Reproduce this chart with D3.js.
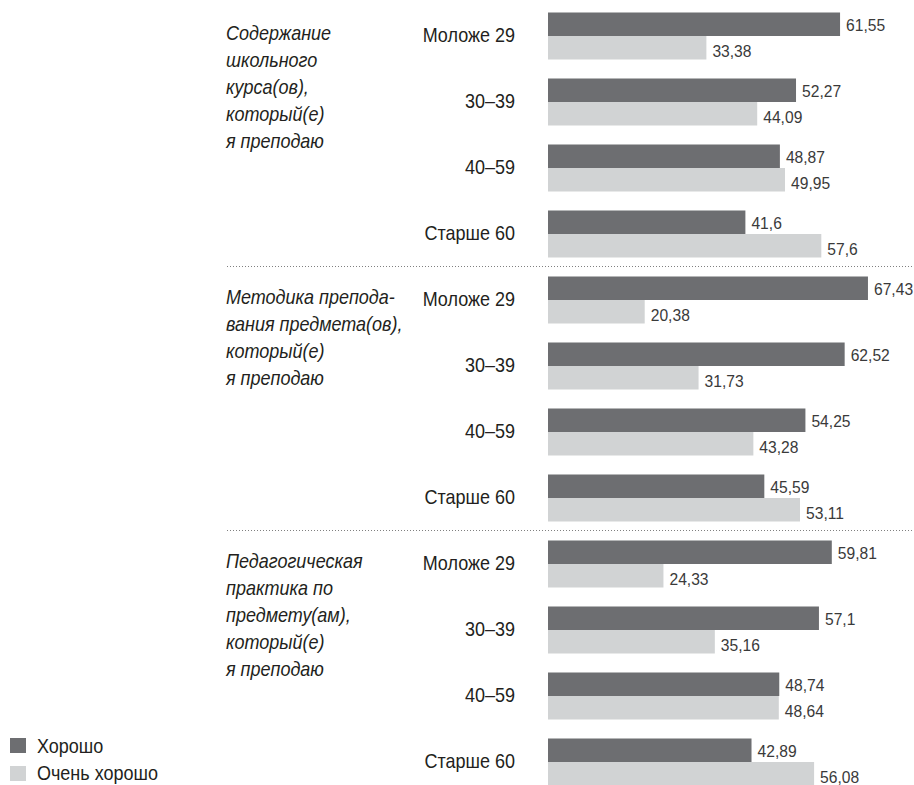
<!DOCTYPE html>
<html><head><meta charset="utf-8">
<script src="https://cdn.jsdelivr.net/npm/d3@7"></script>
<style>body{margin:0;background:#fff}svg{display:block}</style>
</head><body>
<script>
const sections = [
  ["Содержание","школьного","курса(ов),","который(е)","я преподаю"],
  ["Методика препода-","вания предмета(ов),","который(е)","я преподаю"],
  ["Педагогическая","практика по","предмету(ам),","который(е)","я преподаю"]
];
const ageGroups = ["Моложе 29","30–39","40–59","Старше 60"];
const seriesNames = ["Хорошо","Очень хорошо"];
const good = [61.55,52.27,48.87,41.6, 67.43,62.52,54.25,45.59, 59.81,57.1,48.74,42.89];
const veryGood = [33.38,44.09,49.95,57.6, 20.38,31.73,43.28,53.11, 24.33,35.16,48.64,56.08];
const colors = ["#6d6e71","#d1d3d4"];

const W=914,H=785;
const svg=d3.select("body").append("svg").attr("width",W).attr("height",H);
const FONT="'Liberation Sans',Arial,sans-serif";
const SX=0.9;

const rows=d3.range(good.length);
const x=d3.scaleLinear().domain([0,70]).range([548,548+70*4.745]);
const y=d3.scaleBand().domain(rows).range([12.5,785.5]).paddingInner(19/66).paddingOuter(0);
const ys=d3.scaleBand().domain(seriesNames).range([0,y.bandwidth()]);

const data=rows.map(i=>({i,vals:[good[i],veryGood[i]]}));
const g=svg.append("g").selectAll("g").data(data).join("g")
  .attr("transform",d=>`translate(0,${y(d.i)})`);
g.selectAll("rect").data(d=>d.vals.map((v,k)=>({v,k}))).join("rect")
  .attr("x",x(0)).attr("y",d=>ys(seriesNames[d.k]))
  .attr("width",d=>x(d.v)-x(0)).attr("height",ys.bandwidth())
  .attr("fill",d=>colors[d.k]);
g.selectAll("text.val").data(d=>d.vals.map((v,k)=>({v,k}))).join("text")
  .attr("class","val")
  .attr("transform",d=>`translate(${x(d.v)+6},${ys(seriesNames[d.k])+ys.bandwidth()-(d.k?2.5:5)}) scale(0.92,1)`)
  .attr("font-family",FONT).attr("font-size",17).attr("fill","#3a3a3a")
  .text(d=>String(d.v).replace(".",","));
// age labels
g.append("text").attr("transform",`translate(515,${y.bandwidth()/2+5.5}) scale(${SX},1)`)
  .attr("text-anchor","end").attr("font-family",FONT).attr("font-size",20).attr("fill","#231f20")
  .text(d=>ageGroups[d.i%4]);

// section labels
sections.forEach((lines,s)=>{
  const top=y(s*4);
  const t=svg.append("text").attr("transform",`translate(226,${top+27.5}) scale(${SX},1)`)
    .attr("font-family",FONT).attr("font-size",20)
    .attr("font-style","italic").attr("fill","#231f20");
  lines.forEach((l,j)=>t.append("tspan").attr("x",0).attr("y",j*27).text(l));
});
// dividers
[1,2].forEach(s=>{
  const yy=Math.round((y(s*4-1)+y.bandwidth()+y(s*4))/2)-0.5;
  svg.append("line").attr("x1",227).attr("x2",912).attr("y1",yy).attr("y2",yy)
    .attr("stroke","#808080").attr("stroke-width",1).attr("stroke-dasharray","1,2");
});
// legend
seriesNames.forEach((n,k)=>{
  svg.append("rect").attr("x",10).attr("y",738+k*28).attr("width",16).attr("height",15).attr("fill",colors[k]);
  svg.append("text").attr("transform",`translate(37,${753+k*27}) scale(${SX},1)`)
    .attr("font-family",FONT).attr("font-size",20)
    .attr("fill","#231f20").text(n);
});
</script>
</body></html>
